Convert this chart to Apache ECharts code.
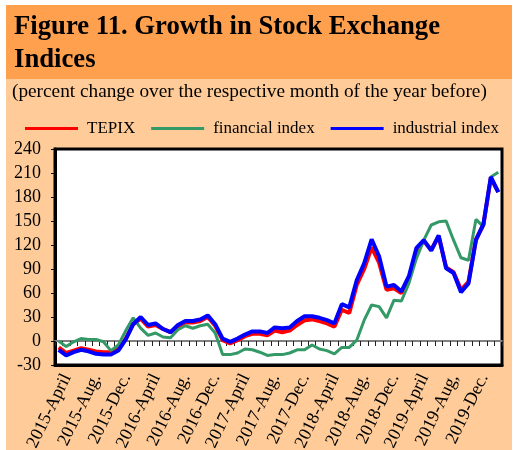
<!DOCTYPE html>
<html>
<head>
<meta charset="utf-8">
<script src="https://cdn.jsdelivr.net/npm/echarts@6/dist/echarts.min.js"></script>
<style>
  html, body { margin: 0; padding: 0; background: #fff; }
  #chart { width: 515px; height: 450px; }
</style>
</head>
<body>
<div id="chart"></div>
<script>
// months, 2015-April .. 2020-March (the source writes "2019-Aug," with a comma)
const months = [
  "2015-April", "2015-May", "2015-June", "2015-July", "2015-Aug.", "2015-Sep.", "2015-Oct.", "2015-Nov.", "2015-Dec.",
  "2016-Jan.", "2016-Feb.", "2016-March",
  "2016-April", "2016-May", "2016-June", "2016-July", "2016-Aug.", "2016-Sep.", "2016-Oct.", "2016-Nov.", "2016-Dec.",
  "2017-Jan.", "2017-Feb.", "2017-March",
  "2017-April", "2017-May", "2017-June", "2017-July", "2017-Aug.", "2017-Sep.", "2017-Oct.", "2017-Nov.", "2017-Dec.",
  "2018-Jan.", "2018-Feb.", "2018-March",
  "2018-April", "2018-May", "2018-June", "2018-July", "2018-Aug.", "2018-Sep.", "2018-Oct.", "2018-Nov.", "2018-Dec.",
  "2019-Jan.", "2019-Feb.", "2019-March",
  "2019-April", "2019-May", "2019-June", "2019-July", "2019-Aug,", "2019-Sep.", "2019-Oct.", "2019-Nov.", "2019-Dec.",
  "2020-Jan.", "2020-Feb.", "2020-March"
];

// percent change (year on year)
const tepix = [
  -8, -15, -12, -9, -11, -13, -14, -14, -10, 3, 21, 28,
  18, 20, 15, 11, 18, 23, 23, 25, 30, 19, 1, -3,
  1, 6, 9, 9, 7, 13, 11, 13, 20, 26, 27, 25,
  22, 18, 39, 35, 70, 90, 117, 98, 64, 66, 60, 77,
  113, 125, 114, 131, 92, 86, 64, 74, 127, 145, 204, 186
];
const financial = [
  0, -7, -1, 3, 2, 2, -1, -12, -5, 13, 29, 16,
  7, 10, 5, 4, 14, 19, 16, 19, 21, 10, -17, -17,
  -15, -10, -11, -14, -18, -17, -17, -15, -11, -11, -5, -10,
  -12, -16, -8, -8, 1, 26, 45, 43, 29, 51, 50, 72,
  103, 126, 145, 149, 150, 126, 104, 101, 152, 143, 205, 211
];
const industrial = [
  -11, -18, -14, -11, -13, -16, -17, -17, -12, 2, 21, 30,
  20, 22, 15, 11, 20, 25, 25, 27, 32, 21, 3, -1,
  3, 8, 12, 12, 10, 17, 16, 17, 25, 31, 31, 29,
  26, 22, 46, 42, 76, 97, 127, 106, 68, 70, 62, 81,
  116, 126, 113, 132, 91, 85, 61, 72, 126, 146, 205, 186
];

const serif = "'Liberation Serif', 'Times New Roman', serif";

const chart = echarts.init(document.getElementById("chart"));

const option = {
  backgroundColor: "#fff",
  animation: false,
  graphic: [
    { type: "rect", silent: true, z: -10, shape: { x: 6, y: 5, width: 506, height: 74 }, style: { fill: "#FFA04F" } },
    { type: "rect", silent: true, z: -10, shape: { x: 6, y: 79, width: 506, height: 371 }, style: { fill: "#FFCC99" } }
  ],
  title: [
    {
      text: "Figure 11. Growth in Stock Exchange\nIndices",
      left: 14,
      top: 11,
      padding: 0,
      textStyle: { fontFamily: serif, fontWeight: "bold", fontSize: 26.7, lineHeight: 33, color: "#000" }
    },
    {
      text: "(percent change over the respective month of the year before)",
      left: 12,
      top: 82,
      padding: 0,
      textStyle: { fontFamily: serif, fontWeight: "normal", fontSize: 19.3, color: "#000" }
    }
  ],
  legend: {
    data: ["TEPIX", "financial index", "industrial index"],
    left: 25,
    top: 120,
    padding: 0,
    icon: "rect",
    itemWidth: 53,
    itemHeight: 3,
    itemGap: 16,
    textStyle: { fontFamily: serif, fontSize: 17, color: "#000", padding: [0, 0, 0, 4] }
  },
  grid: {
    left: 55,
    top: 149,
    width: 447,
    height: 216,
    outerBoundsMode: "none",
    containLabel: false,
    show: true,
    backgroundColor: "#fff",
    borderColor: "#000",
    borderWidth: 3
  },
  xAxis: [
    {
      type: "category",
      data: months,
      boundaryGap: true,
      position: "bottom",
      axisLine: { onZero: false, lineStyle: { color: "#000", width: 3 } },
      axisTick: { show: false },
      axisLabel: {
        interval: 3,
        rotate: 64,
        margin: 6,
        verticalAlign: "top",
        fontFamily: serif,
        fontSize: 18,
        color: "#000"
      }
    },
    {
      type: "category",
      data: months,
      boundaryGap: true,
      position: "top",
      axisLine: { onZero: true, lineStyle: { color: "#808080", width: 2 } },
      axisTick: { show: true, inside: true, interval: 0, length: 5, lineStyle: { color: "#222", width: 1 } },
      axisLabel: { show: false }
    }
  ],
  yAxis: {
    type: "value",
    min: -30,
    max: 240,
    interval: 30,
    splitLine: { show: false },
    axisLine: { show: true, lineStyle: { color: "#000", width: 3 } },
    axisTick: { show: true, length: 4, lineStyle: { color: "#000", width: 1 } },
    axisLabel: { margin: 14, fontFamily: serif, fontSize: 18, color: "#000" }
  },
  series: [
    {
      name: "TEPIX",
      type: "line",
      data: tepix,
      symbol: "none",
      color: "#FF0000",
      lineStyle: { color: "#FF0000", width: 4 }
    },
    {
      name: "financial index",
      type: "line",
      data: financial,
      symbol: "none",
      color: "#339966",
      lineStyle: { color: "#339966", width: 3 }
    },
    {
      name: "industrial index",
      type: "line",
      data: industrial,
      symbol: "none",
      color: "#0000FF",
      lineStyle: { color: "#0000FF", width: 4 }
    }
  ]
};

chart.setOption(option);
</script>
</body>
</html>
